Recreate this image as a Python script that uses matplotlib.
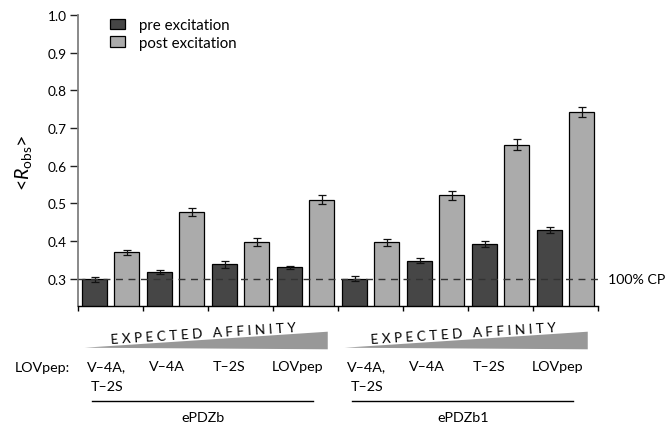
import numpy as np
import matplotlib
matplotlib.use("Agg")
import matplotlib.pyplot as plt
from matplotlib.transforms import Affine2D, blended_transform_factory
from matplotlib.patches import Patch, Polygon
from matplotlib.lines import Line2D

plt.rcParams['font.family'] = ['Lato', 'DejaVu Sans']
plt.rcParams['mathtext.fontset'] = 'custom'
plt.rcParams['mathtext.rm'] = 'Lato'
plt.rcParams['mathtext.it'] = 'Lato:italic'

# ---- data ----
peptides = ["V–4A,\nT–2S", "V–4A", "T–2S", "LOVpep",
            "V–4A,\nT–2S", "V–4A", "T–2S", "LOVpep"]
constructs = ["ePDZb", "ePDZb1"]
pre = [0.298, 0.317, 0.338, 0.330, 0.300, 0.348, 0.391, 0.429]
pre_err = [0.006, 0.005, 0.010, 0.005, 0.006, 0.006, 0.008, 0.009]
post = [0.370, 0.477, 0.398, 0.510, 0.397, 0.521, 0.656, 0.743]
post_err = [0.007, 0.011, 0.011, 0.013, 0.009, 0.013, 0.015, 0.013]
cp_level = 0.30
yticks = [0.3, 0.4, 0.5, 0.6, 0.7, 0.8, 0.9, 1.0]

W, H = 665, 427
fig = plt.figure(figsize=(W / 100, H / 100), dpi=100)
pix = Affine2D().scale(1 / W, -1 / H).translate(0, 1) + fig.transFigure

ax = fig.add_axes([77.5 / W, 1 - 307.3 / H, 520 / W, (307.3 - 16) / H])
ax.set_xlim(0, 8)
ax.set_ylim(0.2267, 1.0)

x = np.arange(len(pre))
dark, light = "#464646", "#ababab"
ax.bar(x + 0.262, pre, width=0.39, color=dark, edgecolor="black", linewidth=0.9,
       yerr=pre_err, error_kw=dict(ecolor="#111111", elinewidth=0.9, capsize=2.8, capthick=0.9),
       zorder=2)
ax.bar(x + 0.755, post, width=0.39, color=light, edgecolor="black", linewidth=0.9,
       yerr=post_err, error_kw=dict(ecolor="#111111", elinewidth=0.9, capsize=2.8, capthick=0.9),
       zorder=2)
ax.axhline(cp_level, color="#333333", linewidth=1.0, dashes=(5, 4), zorder=3)

for s in ["top", "right"]:
    ax.spines[s].set_visible(False)
ax.spines["left"].set_color("#808080")
ax.spines["left"].set_linewidth(1.3)
ax.spines["bottom"].set_color("black")
ax.spines["bottom"].set_linewidth(1.0)

ax.set_yticks(yticks)
ax.set_yticklabels([f"{v:.1f}" for v in yticks], fontsize=9.8)
ax.tick_params(axis="y", direction="out", length=5.5, width=1.0, pad=2, color="#222222")
ax.set_xticks(np.arange(0, 9))
ax.set_xticklabels([])
ax.tick_params(axis="x", direction="out", length=3.5, width=1.0, color="black")

# legend
handles = [Patch(facecolor=dark, edgecolor="black", linewidth=0.9, label="pre excitation"),
           Patch(facecolor=light, edgecolor="black", linewidth=0.9, label="post excitation")]
fig.legend(handles=handles, loc="upper left", bbox_to_anchor=(110, 19),
           bbox_transform=pix, frameon=False, fontsize=10.8, handlelength=1.0,
           handleheight=0.68, handletextpad=0.95, labelspacing=0.25, borderpad=0,
           borderaxespad=0)

# y label
fig.text(23, 163, r"<$R_{\mathrm{obs}}$>", transform=pix, rotation=90,
         ha="center", va="center", fontsize=14)
# 100% CP
fig.text(607.5, 280.5, "100% CP", transform=pix, ha="left", va="center", fontsize=10.2)

tr = blended_transform_factory(ax.transData, pix)

# affinity wedges and text
for g in range(2):
    x0 = 4 * g
    wedge = Polygon([(x0 + 0.11, 348.7), (x0 + 3.85, 332.7), (x0 + 3.85, 350.3)],
                    closed=True, transform=tr, facecolor="#989898", edgecolor="none",
                    clip_on=False)
    fig.add_artist(wedge)
    fig.text(x0 + 1.93, 334, "E X P E C T E D   A F F I N I T Y", transform=tr,
             rotation=3.7, rotation_mode="anchor", ha="center", va="center",
             fontsize=9.7, color="black")

# peptide labels
fig.text(15, 372.5, "LOVpep:", transform=pix, ha="left", va="baseline", fontsize=10.3)
offs = [0.45, 0.37, 0.34, 0.39]
for i, lab in enumerate(peptides):
    for k, line in enumerate(lab.split("\n")):
        fig.text(i + offs[i % 4], 371.5 + 20 * k, line, transform=tr, ha="center",
                 va="baseline", fontsize=10.3)

# construct underlines and names
for g, name in enumerate(constructs):
    x0 = 4 * g
    fig.add_artist(Line2D([x0 + 0.225, x0 + 3.63], [402.3, 402.3], transform=tr,
                          color="black", linewidth=1.0))
    fig.text(x0 + 1.93, 418, name, transform=tr, ha="center", va="center", fontsize=10.3)

fig.savefig("out.png", dpi=100)
